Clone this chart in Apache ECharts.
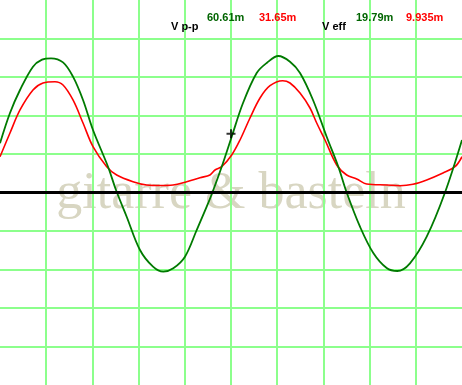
<!DOCTYPE html>
<html>
<head>
<meta charset="utf-8">
<script src="https://cdn.jsdelivr.net/npm/echarts@6/dist/echarts.min.js"></script>
<style>
html,body{margin:0;padding:0;background:#fff;}
#c{width:462px;height:385px;}
</style>
</head>
<body>
<div id="c"></div>
<script>
// Time in divisions (10 div across), voltage in divisions (+/-5 div)
var greenTrace = [
  [0,1.278],[0.216,2.065],[0.433,2.662],[0.714,3.268],[0.909,3.45],[1.104,3.486],
  [1.364,3.38],[1.580,3.008],[1.797,2.403],[2.013,1.623],[2.338,0.670],[2.511,0.065],
  [2.742,-0.629],[3.030,-1.494],[3.312,-1.927],[3.535,-2.057],[3.751,-1.969],[4.004,-1.668],
  [4.258,-0.974],[4.474,-0.369],[4.595,-0.005],[4.799,0.670],[5.015,1.449],[5.260,2.325],
  [5.556,3.104],[5.773,3.364],[6.024,3.545],[6.277,3.397],[6.494,3.104],[6.775,2.403],
  [7.071,1.449],[7.323,0.670],[7.504,0.0],[7.792,-0.888],[8.080,-1.571],[8.370,-1.961],
  [8.600,-2.039],[8.874,-1.839],[9.236,-1.148],[9.632,0.0],[10,1.364]
];
var redTrace = [
  [0,0.930],[0.216,1.545],[0.433,2.143],[0.714,2.662],[0.931,2.844],[1.190,2.878],
  [1.364,2.792],[1.580,2.403],[1.797,1.805],[2.013,1.190],[2.310,0.670],[2.526,0.455],
  [2.879,0.281],[3.175,0.195],[3.463,0.182],[3.745,0.195],[4.041,0.281],[4.329,0.384],
  [4.545,0.455],[4.654,0.584],[4.799,0.670],[5.015,0.974],[5.195,1.364],[5.411,1.935],
  [5.628,2.455],[5.844,2.774],[6.119,2.904],[6.277,2.844],[6.494,2.584],[6.710,2.195],
  [6.855,1.805],[7.035,1.364],[7.288,0.714],[7.504,0.455],[7.721,0.351],[7.937,0.221],
  [8.370,0.195],[8.658,0.177],[8.939,0.213],[9.236,0.325],[9.589,0.506],[9.848,0.670],
  [10,0.930]
];
var cursorPoint = [[5.0,1.527]];
var vppLabel = 'V p-p';
var veffLabel = 'V eff';
var vppValues = ['60.61m','31.65m'];
var veffValues = ['19.79m','9.935m'];
var watermark = 'gitarre & basteln';

var chart = echarts.init(document.getElementById('c'), null, {renderer:'canvas'});
var gridLine = {color:'#8cff8c', width:2};
var boldFont = 'bold 11px "Liberation Sans", Arial, sans-serif';
chart.setOption({
  animation:false,
  backgroundColor:'#ffffff',
  grid:{left:0,right:0,top:0,bottom:0,containLabel:false},
  xAxis:{type:'value',min:0,max:10,interval:1,
    axisLine:{show:false},axisTick:{show:false},axisLabel:{show:false},
    splitLine:{show:true,showMinLine:false,showMaxLine:false,lineStyle:gridLine}},
  yAxis:{type:'value',min:-5,max:5,interval:1,
    axisLine:{show:false},axisTick:{show:false},axisLabel:{show:false},
    splitLine:{show:true,showMinLine:false,showMaxLine:false,lineStyle:gridLine}},
  graphic:[
    {type:'text',z:-10,x:231,y:194,style:{text:watermark,
      font:'52px "Liberation Serif", "Times New Roman", serif',fill:'#d8d6c2',
      textAlign:'center',textVerticalAlign:'middle'}},
    {type:'text',z:100,x:171,y:27,style:{text:vppLabel,font:boldFont,fill:'#000',textVerticalAlign:'middle'}},
    {type:'text',z:100,x:207,y:18,style:{text:vppValues[0],font:boldFont,fill:'#006400',textVerticalAlign:'middle'}},
    {type:'text',z:100,x:259,y:18,style:{text:vppValues[1],font:boldFont,fill:'#ff0000',textVerticalAlign:'middle'}},
    {type:'text',z:100,x:322,y:27,style:{text:veffLabel,font:boldFont,fill:'#000',textVerticalAlign:'middle'}},
    {type:'text',z:100,x:356,y:18,style:{text:veffValues[0],font:boldFont,fill:'#006400',textVerticalAlign:'middle'}},
    {type:'text',z:100,x:406,y:18,style:{text:veffValues[1],font:boldFont,fill:'#ff0000',textVerticalAlign:'middle'}}
  ],
  series:[
    {type:'line',data:[],silent:true,
      markLine:{silent:true,symbol:'none',label:{show:false},
        lineStyle:{color:'#000',width:3,type:'solid'},data:[{yAxis:0}]}},
    {type:'line',data:redTrace,showSymbol:false,smooth:0.35,
      lineStyle:{color:'#ff0000',width:1.6},z:3},
    {type:'line',data:greenTrace,showSymbol:false,smooth:0.35,
      lineStyle:{color:'#007a00',width:1.8},z:4},
    {type:'scatter',data:cursorPoint,symbolSize:9,z:5,
      symbol:'path://M3.5,0h2v3.5h3.5v2h-3.5v3.5h-2v-3.5h-3.5v-2h3.5z',
      itemStyle:{color:'#000'}}
  ]
});
</script>
</body>
</html>
